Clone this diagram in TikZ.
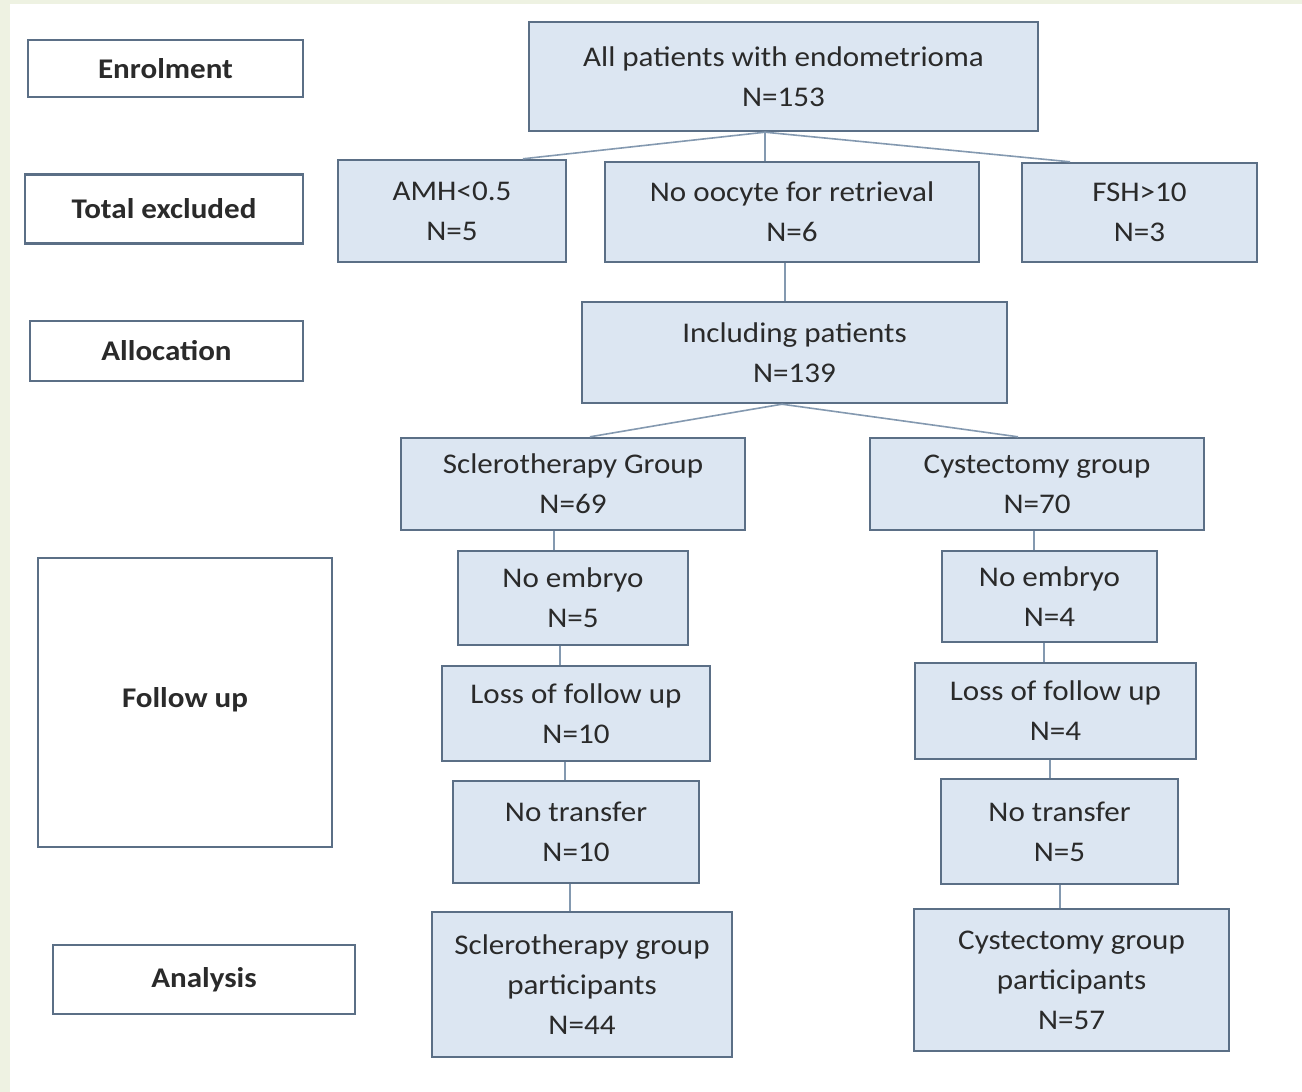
\documentclass[tikz,border=0pt]{standalone}
\usepackage{fontspec}
\setmainfont{Carlito}[FakeStretch=1.09]
\definecolor{bgstrip}{HTML}{EEF2E2}
\definecolor{boxfill}{HTML}{DCE6F2}
\definecolor{boxline}{HTML}{5B6F86}
\definecolor{connline}{HTML}{8499B0}
\definecolor{txt}{HTML}{2A2A2A}
\tikzset{
  flowbox/.style={draw=boxline, line width=2.4pt, fill=boxfill, inner sep=0pt,
    align=center, text=txt, font=\fontsize{28.5}{40}\selectfont},
  stagebox/.style={draw=boxline, line width=2.4pt, fill=white, inner sep=0pt,
    align=center, text=txt, font=\fontsize{28.5}{40}\selectfont\bfseries},
  conn/.style={draw=connline, line width=1.6pt}
}
\begin{document}
\begin{tikzpicture}[x=1pt,y=-1pt]
\useasboundingbox (0,0) rectangle (1302,1092);
\fill[white] (0,0) rectangle (1302,1092);
\fill[bgstrip] (0,0) rectangle (1302,4);
\fill[bgstrip] (0,0) rectangle (10,1092);

% stage labels
\node[stagebox, minimum width=275, minimum height=57] (enrol) at (165.5,68.5) {\raisebox{-3pt}{Enrolment}};
\node[stagebox, minimum width=278, minimum height=69] (excl) at (164,209) {Total excluded};
\node[stagebox, minimum width=273, minimum height=60] (alloc) at (166.5,351) {Allocation};
\node[stagebox, minimum width=294, minimum height=289] (follow) at (185,702.5) {\raisebox{10pt}{Follow up}};
\node[stagebox, minimum width=302, minimum height=69] (analysis) at (204,979.5) {Analysis};

% flow boxes
\node[flowbox, minimum width=509, minimum height=109] (all) at (783.5,76.5) {All patients with endometrioma\\N=153};
\node[flowbox, minimum width=228, minimum height=102] (amh) at (452,211) {AMH<0.5\\N=5};
\node[flowbox, minimum width=374, minimum height=100] (oocyte) at (792,212) {No oocyte for retrieval\\N=6};
\node[flowbox, minimum width=235, minimum height=99] (fsh) at (1139.5,212.5) {FSH>10\\N=3};
\node[flowbox, minimum width=425, minimum height=101] (incl) at (794.5,352.5) {Including patients\\N=139};
\node[flowbox, minimum width=344, minimum height=92] (scl) at (573,484) {Sclerotherapy Group\\N=69};
\node[flowbox, minimum width=334, minimum height=92] (cys) at (1037,484) {Cystectomy group\\N=70};
\node[flowbox, minimum width=230, minimum height=94] (ne1) at (573,598) {No embryo\\N=5};
\node[flowbox, minimum width=215, minimum height=91] (ne2) at (1049.5,596.5) {No embryo\\N=4};
\node[flowbox, minimum width=268, minimum height=95] (lf1) at (576,713.5) {Loss of follow up\\N=10};
\node[flowbox, minimum width=281, minimum height=96] (lf2) at (1055.5,711) {Loss of follow up\\N=4};
\node[flowbox, minimum width=246, minimum height=102] (nt1) at (576,832) {No transfer\\N=10};
\node[flowbox, minimum width=237, minimum height=105] (nt2) at (1059.5,831.5) {No transfer\\N=5};
\node[flowbox, minimum width=300, minimum height=145] (sp1) at (582,984.5) {Sclerotherapy group\\participants\\N=44};
\node[flowbox, minimum width=315, minimum height=142] (cp2) at (1071.5,980) {Cystectomy group\\participants\\N=57};

% connectors
\draw[conn] (all.south -| 765,0) -- (amh.north -| 523,0);
\draw[conn] (all.south -| 765,0) -- (fsh.north -| 1070,0);
\draw[conn] (all.south -| 765,0) -- (oocyte.north -| 765,0);
\draw[conn] (oocyte.south -| 785,0) -- (incl.north -| 785,0);
\draw[conn] (incl.south -| 782,0) -- (scl.north -| 590,0);
\draw[conn] (incl.south -| 782,0) -- (cys.north -| 1018,0);
\draw[conn] (scl.south -| 554,0) -- (ne1.north -| 554,0);
\draw[conn] (ne1.south -| 560,0) -- (lf1.north -| 560,0);
\draw[conn] (lf1.south -| 565,0) -- (nt1.north -| 565,0);
\draw[conn] (nt1.south -| 570,0) -- (sp1.north -| 570,0);
\draw[conn] (cys.south -| 1034,0) -- (ne2.north -| 1034,0);
\draw[conn] (ne2.south -| 1044,0) -- (lf2.north -| 1044,0);
\draw[conn] (lf2.south -| 1050,0) -- (nt2.north -| 1050,0);
\draw[conn] (nt2.south -| 1060,0) -- (cp2.north -| 1060,0);
\end{tikzpicture}
\end{document}
